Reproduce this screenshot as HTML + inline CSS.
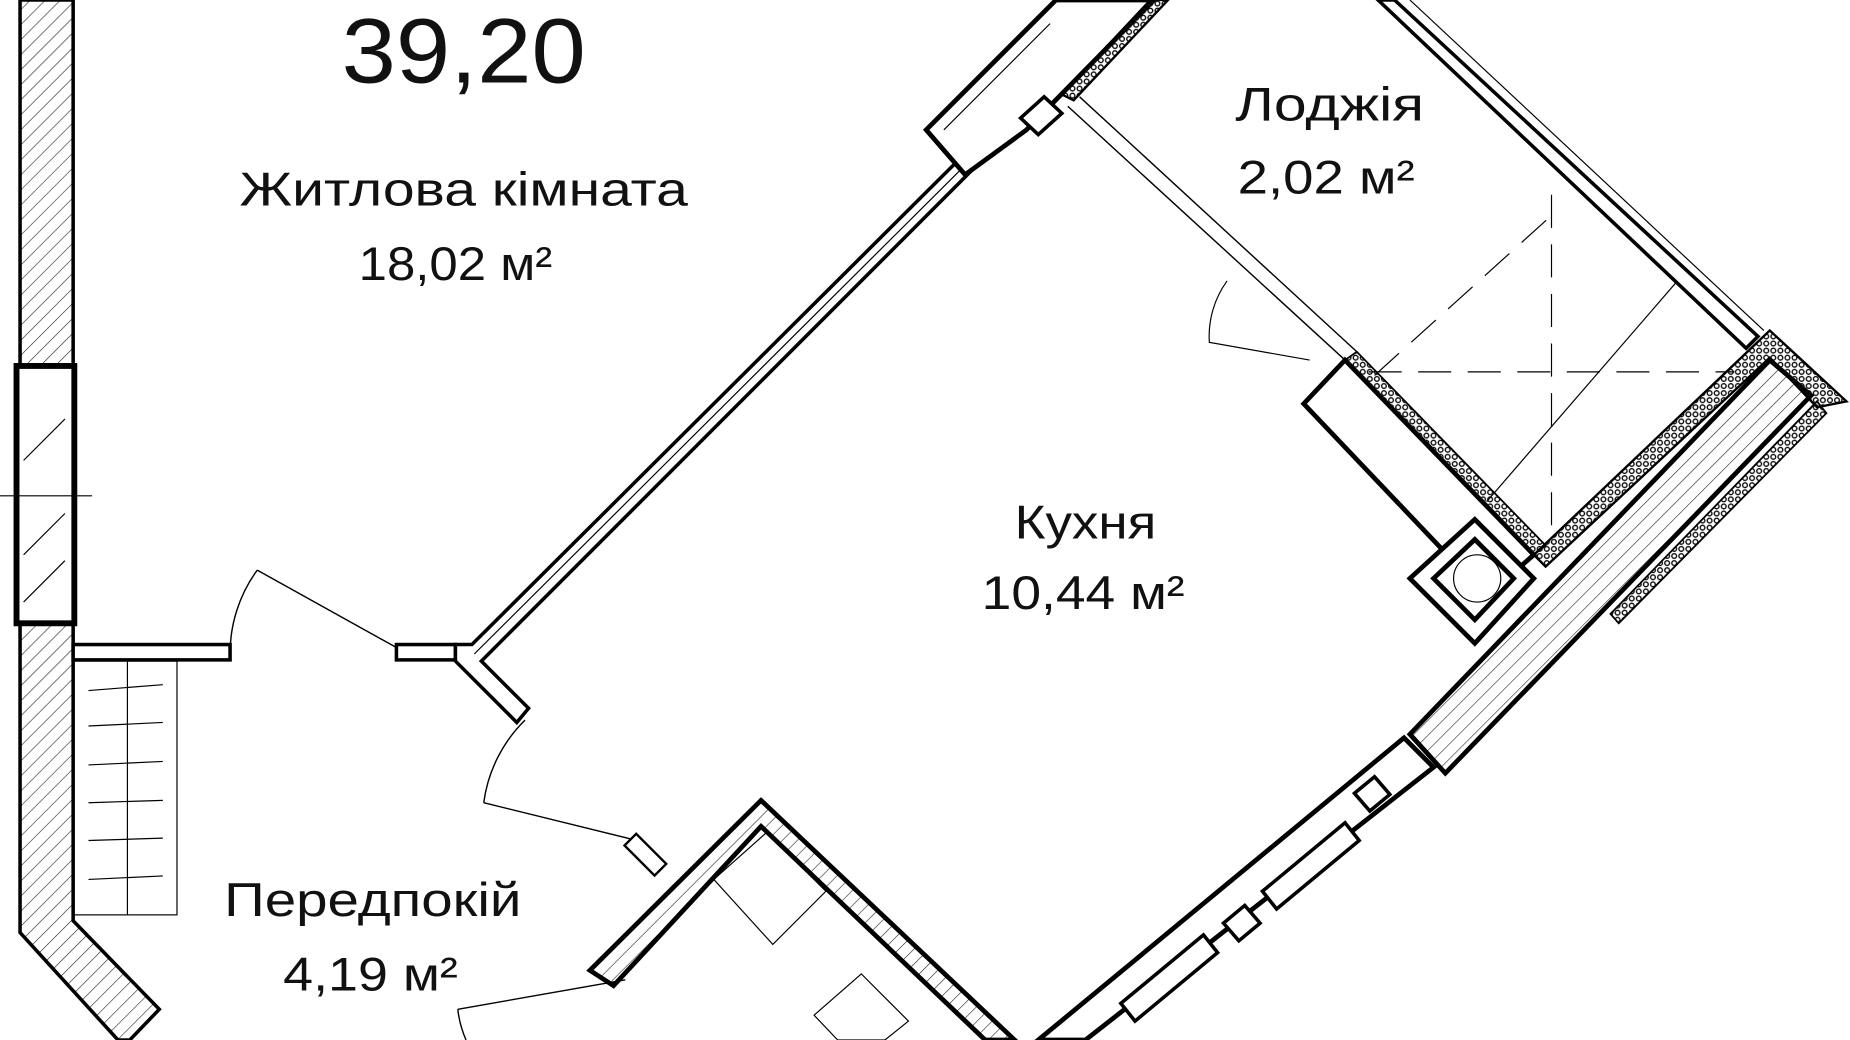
<!DOCTYPE html>
<html><head><meta charset="utf-8"><style>
html,body{margin:0;padding:0;background:#fff;}
svg{display:block}
text{font-family:"Liberation Sans","DejaVu Sans",sans-serif;fill:#111;text-anchor:middle}
</style></head><body>
<svg width="1850" height="1040" viewBox="0 0 1568 881" preserveAspectRatio="none" xmlns="http://www.w3.org/2000/svg">
<defs>
<pattern id="h" width="9" height="9" patternUnits="userSpaceOnUse" patternTransform="rotate(45)"><line x1="0" y1="0" x2="0" y2="9" stroke="#222" stroke-width="1"/></pattern>
<pattern id="ins" width="6" height="6" patternUnits="userSpaceOnUse"><circle cx="3" cy="3" r="2" fill="none" stroke="#111" stroke-width="1.2"/></pattern>
</defs>
<g fill="none" stroke="#000" stroke-linejoin="miter">
<polygon points="17,0 62,0 62,780 135,855 110,881 100,881 17,790" fill="url(#h)" stroke-width="3"/>
<rect x="14" y="310" width="49" height="218" fill="#fff" stroke-width="5"/>
<line x1="20" y1="390" x2="55" y2="355" stroke-width="1"/><line x1="20" y1="470" x2="55" y2="435" stroke-width="1"/><line x1="20" y1="510" x2="55" y2="475" stroke-width="1"/>
<line x1="0" y1="420" x2="78" y2="420" stroke-width="1"/>
<rect x="62" y="546" width="133" height="13" fill="#fff" stroke-width="3"/>
<rect x="336" y="546" width="50" height="13" fill="#fff" stroke-width="3"/>
<rect x="62" y="560" width="88" height="215" stroke-width="1"/>
<line x1="108" y1="560" x2="108" y2="775" stroke-width="1"/>
<g stroke-width="1"><line x1="75" y1="585" x2="138" y2="580"/><line x1="75" y1="615" x2="138" y2="612"/><line x1="75" y1="648" x2="138" y2="645"/><line x1="75" y1="680" x2="138" y2="678"/><line x1="75" y1="712" x2="138" y2="710"/><line x1="75" y1="745" x2="138" y2="742"/></g>
<polygon points="386,546 400,546 815,133 825,143 408,560 448,600 438,612 386,560" fill="#fff" stroke-width="3"/>
<line x1="402" y1="554" x2="820" y2="138" stroke-width="1"/>
<polygon points="785,110 895,0 978,0 870,110 818,148" fill="#fff" stroke-width="4"/>
<polygon points="800,110 890,20" stroke-width="1"/>
<polygon points="900,80 975,0 990,0 910,85" fill="url(#ins)" stroke-width="2"/>
<polygon points="865,100 885,82 900,96 880,114" fill="#fff" stroke-width="3"/>
<line x1="335" y1="548" x2="218" y2="483" stroke-width="1.2"/><path d="M218,483 A120,120 0 0 0 195,555" stroke-width="1.2"/>
<path d="M445,610 A120,120 0 0 0 410,680" stroke-width="1.2"/><line x1="410" y1="680" x2="540" y2="712" stroke-width="1.2"/>
<path d="M388,855 L530,830" stroke-width="1.2"/><path d="M388,855 A90,90 0 0 0 395,881" stroke-width="1.2"/>
<polygon points="500,822 645,678 860,881 835,881 645,700 520,835" fill="url(#h)" stroke-width="4"/>
<rect x="540" y="706" width="14" height="36" transform="rotate(-45 547 724)" fill="#fff" stroke-width="2"/>
<polygon points="605,745 650,705 700,755 655,800" stroke-width="1"/>
<polygon points="690,860 730,825 770,865 750,881 710,881" stroke-width="1"/>
<polygon points="880,881 1190,625 1215,650 920,881" fill="#fff" stroke-width="4"/>
<g stroke-width="3" fill="#fff">
<polygon points="1070,755 1140,697 1152,712 1082,770"/>
<polygon points="1037,782 1055,767 1068,782 1050,797"/>
<polygon points="1148,672 1165,658 1178,673 1161,687"/>
<polygon points="950,850 1020,792 1032,807 962,865"/>
</g>
<polygon points="1195,622 1500,305 1535,335 1225,655" fill="url(#h)" stroke-width="4"/>
<polygon points="1365,520 1540,340 1548,350 1372,528" fill="url(#ins)" stroke-width="1.5"/>
<polygon points="1300,470 1500,280 1565,340 1540,345 1500,303 1310,480" fill="url(#ins)" stroke-width="2"/>
<polygon points="1168,0 1182,0 1490,285 1480,295" stroke-width="3"/>
<line x1="1195" y1="0" x2="1495" y2="280" stroke-width="1"/>
<line x1="905" y1="90" x2="1140" y2="305" stroke-width="1.2"/><line x1="915" y1="82" x2="1150" y2="298" stroke-width="1.2"/>
<path d="M1040,238 A80,80 0 0 0 1025,290 L1110,305" stroke-width="1"/>
<polygon points="1105,342 1140,305 1300,470 1260,505" fill="#fff" stroke-width="4"/>
<polygon points="1140,305 1150,298 1310,462 1300,470" fill="url(#ins)" stroke-width="1.5"/>
<polygon points="1195,490 1250,440 1300,490 1250,545" fill="#fff" stroke-width="4"/>
<polygon points="1215,490 1250,457 1283,490 1250,525" stroke-width="4"/>
<circle cx="1252" cy="490" r="20" stroke-width="1"/>
<g stroke-width="1" stroke-dasharray="28,14">
<line x1="1315" y1="165" x2="1315" y2="460"/><line x1="1160" y1="315" x2="1470" y2="315"/><line x1="1165" y1="318" x2="1320" y2="178"/>
</g>
<line x1="1260" y1="425" x2="1420" y2="240" stroke-width="1"/>
</g>
<text x="393" y="70" font-size="78" textLength="207" lengthAdjust="spacingAndGlyphs">39,20</text>
<text x="393" y="174" font-size="40" textLength="380" lengthAdjust="spacingAndGlyphs">Житлова кімната</text>
<text x="386" y="237" font-size="40" textLength="164" lengthAdjust="spacingAndGlyphs">18,02 м²</text>
<text x="1127" y="102" font-size="40" textLength="160" lengthAdjust="spacingAndGlyphs">Лоджія</text>
<text x="1124" y="164" font-size="40" textLength="150" lengthAdjust="spacingAndGlyphs">2,02 м²</text>
<text x="920" y="456" font-size="40" textLength="120" lengthAdjust="spacingAndGlyphs">Кухня</text>
<text x="918" y="516" font-size="40" textLength="172" lengthAdjust="spacingAndGlyphs">10,44 м²</text>
<text x="316" y="776" font-size="40" textLength="252" lengthAdjust="spacingAndGlyphs">Передпокій</text>
<text x="314" y="839" font-size="40" textLength="148" lengthAdjust="spacingAndGlyphs">4,19 м²</text>
</svg>
</body></html>
